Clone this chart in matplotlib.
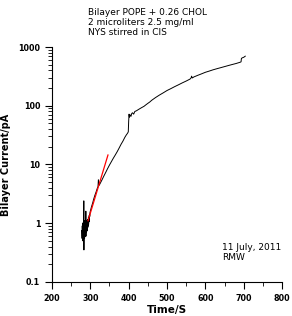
import matplotlib.pyplot as plt
from matplotlib.ticker import MultipleLocator, LogLocator, FixedFormatter, FixedLocator

# noisy start of the trace
t_start = [278, 278.5, 279, 279.5, 280, 280.5, 281, 281.5, 282, 282.5, 283, 283.3, 283.6,
           284, 284.5, 285, 285.5, 286, 286.5, 287, 287.5, 288, 288.3, 288.6, 289, 289.5,
           290, 290.5, 291, 291.5, 292, 292.5, 293, 293.5, 294, 294.5, 295, 295.5, 296,
           296.5, 297, 297.5, 298, 298.5, 299]
i_start = [0.75, 0.55, 0.9, 0.6, 1.0, 0.5, 0.8, 0.62, 1.05, 0.58, 2.4, 0.35, 0.9,
           0.6, 1.1, 0.55, 0.85, 0.65, 1.0, 0.6, 0.95, 0.7, 1.6, 0.6, 1.05, 0.7,
           0.95, 0.72, 1.1, 0.75, 1.0, 0.8, 1.15, 0.85, 1.1, 0.9, 1.25, 0.95, 1.2,
           1.05, 1.35, 1.15, 1.4, 1.3, 1.5]

# smoother growth afterwards
t_rise = [300, 303, 306, 309, 312, 315, 318, 320, 321, 323, 326, 330, 335, 340, 345,
          350, 355, 360, 365, 370, 375, 380, 385, 390, 394, 397, 399, 400, 401, 402,
          404, 406, 408, 410, 413, 416, 420, 425, 430, 435, 440, 445, 450, 455, 460,
          470, 480, 490, 500, 510, 520, 530, 540, 550, 560, 563, 564, 566, 570, 580,
          590, 600, 610, 620, 630, 640, 650, 660, 670, 680, 690, 693, 694, 696, 700, 704]
i_rise = [1.6, 1.9, 2.2, 2.6, 3.0, 3.4, 3.9, 4.2, 5.5, 4.4, 4.8, 5.4, 6.3, 7.3, 8.5,
          9.8, 11.2, 12.8, 14.5, 16.5, 19, 22, 25, 29, 32, 34, 36, 55, 72, 64,
          70, 66, 74, 76, 72, 80, 82, 86, 90, 94, 98, 104, 110, 116, 124,
          138, 152, 166, 182, 196, 212, 228, 246, 264, 285, 300, 320, 298, 310, 330,
          350, 372, 390, 410, 428, 446, 465, 485, 505, 525, 550, 560, 640, 655, 670, 700]

# red fit line
t_fit = [294, 346]
i_fit = [1.1, 14.5]

y_ticks = [0.1, 1, 10, 100, 1000]
y_labels = ["0.1", "1", "10", "100", "1000"]

fig = plt.figure(figsize=(2.92, 3.16), dpi=100)
ax = fig.add_axes([0.178, 0.108, 0.788, 0.743])

ax.plot(t_start + t_rise, i_start + i_rise, color="black", lw=0.7)
ax.plot(t_fit, i_fit, color="red", lw=0.9)

ax.set_yscale("log")
ax.set_xlim(200, 800)
ax.set_ylim(0.1, 1000)

ax.spines["top"].set_visible(False)
ax.spines["right"].set_visible(False)
ax.spines["left"].set_linewidth(0.8)
ax.spines["bottom"].set_linewidth(0.8)

ax.xaxis.set_major_locator(MultipleLocator(100))
ax.xaxis.set_minor_locator(MultipleLocator(50))
ax.yaxis.set_major_locator(FixedLocator(y_ticks))
ax.yaxis.set_major_formatter(FixedFormatter(y_labels))
ax.yaxis.set_minor_locator(LogLocator(base=10, subs=range(2, 10)))
ax.tick_params(which="major", direction="out", length=5, width=0.8, labelsize=5.8)
ax.tick_params(which="minor", direction="out", length=3, width=0.6)
for lab in ax.get_xticklabels() + ax.get_yticklabels():
    lab.set_fontweight("bold")

ax.set_xlabel("Time/S", fontsize=7.5, fontweight="bold", labelpad=2)
ax.set_ylabel("Bilayer Current/pA", fontsize=7, fontweight="bold", labelpad=5)

fig.text(0.301, 0.975, "Bilayer POPE + 0.26 CHOL\n2 microliters 2.5 mg/ml\nNYS stirred in CIS",
         fontsize=6.5, va="top", ha="left", linespacing=1.15)
ax.text(643, 0.215, "11 July, 2011\nRMW", fontsize=6.5, va="bottom", ha="left", linespacing=1.15)

fig.savefig("out.png", dpi=100)
